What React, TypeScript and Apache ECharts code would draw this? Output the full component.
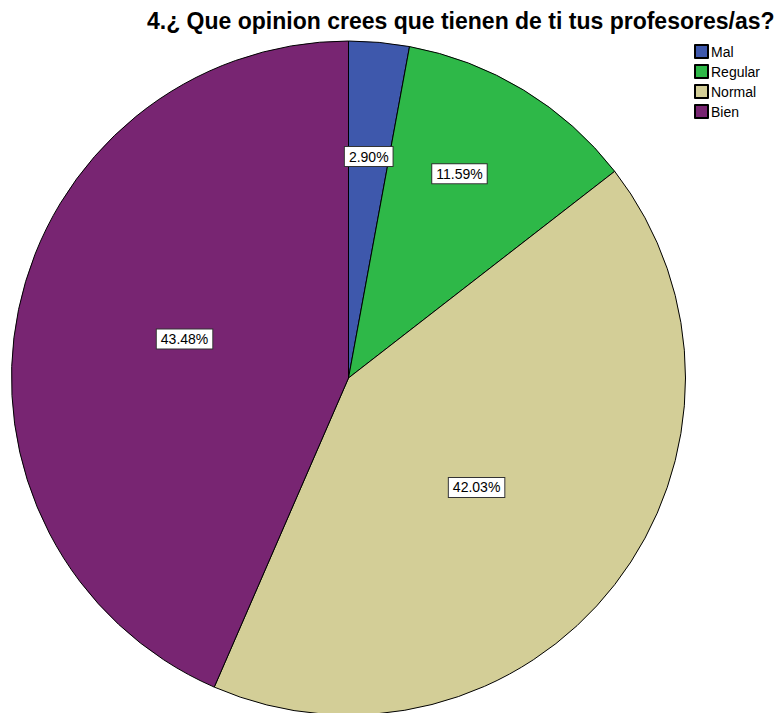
import React, { useEffect, useRef } from "react";
import * as echarts from "echarts";

const categories = ["Mal", "Regular", "Normal", "Bien"];
const counts = [2, 8, 29, 30];
const percentLabels = ["2.90%", "11.59%", "42.03%", "43.48%"];
const colors = ["#3E58AC", "#2EB848", "#D3CE97", "#782572"];
const labelRadiusFraction = [0.66, 0.69, 0.5, 0.5];
const labelAngleShiftDeg = [0, -2.8, 2.7, 1.6];

const CX = 348.5;
const CY = 378;
const R = 337;

export default function App() {
  const ref = useRef<HTMLDivElement>(null);
  useEffect(() => {
    if (!ref.current) return;
    const chart = echarts.init(ref.current, undefined, { renderer: "svg" });
    const total = counts.reduce((a, b) => a + b, 0);
    const mids: number[] = [];
    let acc = 0;
    counts.forEach((c) => {
      mids.push(((acc + c / 2) / total) * Math.PI * 2);
      acc += c;
    });
    chart.setOption({
      animation: false,
      backgroundColor: "#ffffff",
      title: {
        text: "4.¿ Que opinion crees que tienen de ti tus profesores/as?",
        left: 142,
        top: 4,
        textStyle: {
          fontFamily: "Liberation Sans, Arial, sans-serif",
          fontWeight: "bold",
          fontSize: 23,
          color: "#000",
        },
      },
      legend: {
        orient: "vertical",
        left: 689,
        top: 39,
        itemWidth: 13,
        itemHeight: 13,
        itemGap: 5,
        icon: "rect",
        data: categories,
        textStyle: {
          fontFamily: "Liberation Sans, Arial, sans-serif",
          fontSize: 14,
          color: "#000",
          padding: [0, 0, 0, -2],
        },
      },
      series: [
        {
          type: "pie",
          center: [CX, CY],
          radius: R,
          startAngle: 90,
          clockwise: true,
          data: categories.map((name, i) => ({
            name,
            value: counts[i],
            itemStyle: { color: colors[i] },
          })),
          itemStyle: { borderColor: "#000", borderWidth: 1 },
          emphasis: { disabled: true },
          label: {
            show: true,
            position: "inside",
            formatter: (p: any) => percentLabels[p.dataIndex],
            fontFamily: "Liberation Sans, Arial, sans-serif",
            fontSize: 14,
            color: "#000",
            backgroundColor: "#fff",
            borderColor: "#333",
            borderWidth: 1,
            padding: [3, 4, 2, 4],
          },
          labelLine: { show: false },
          labelLayout: (params: any) => {
            const i = params.dataIndex;
            const a = mids[i] + (labelAngleShiftDeg[i] * Math.PI) / 180;
            const f = labelRadiusFraction[i];
            return {
              x: CX + f * R * Math.sin(a),
              y: CY - f * R * Math.cos(a),
              align: "center",
              verticalAlign: "middle",
            };
          },
        },
      ],
    });
    return () => chart.dispose();
  }, []);
  return (
    <div
      ref={ref}
      style={{ position: "fixed", left: 0, top: 0, width: 778, height: 713 }}
    />
  );
}
